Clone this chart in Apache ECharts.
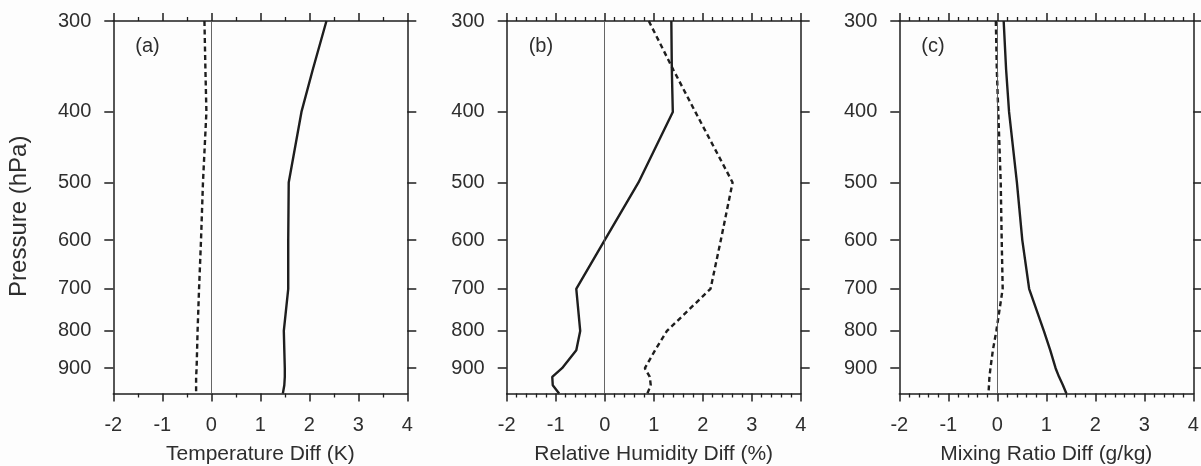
<!DOCTYPE html>
<html>
<head>
<meta charset="utf-8">
<script src="https://cdn.jsdelivr.net/npm/echarts@6/dist/echarts.min.js"></script>
<style>
  html, body { margin: 0; padding: 0; background: #fdfdfd; }
  #chart { width: 1201px; height: 466px; }
</style>
</head>
<body>
<div id="chart"></div>
<script>
// pressure levels (hPa) where the profiles are read
const levels = [300, 350, 400, 500, 600, 700, 800, 850, 900, 925, 950, 975];
const pTicks = [300, 400, 500, 600, 700, 800, 900];

// (a) temperature diff (K)
const tempSolid  = [2.35, 2.07, 1.84, 1.58, 1.57, 1.57, 1.48, 1.49, 1.50, 1.50, 1.49, 1.46];
const tempDashed = [-0.14, -0.12, -0.10, -0.17, -0.21, -0.25, -0.28, -0.29, -0.30, -0.31, -0.31, -0.31];
// (b) relative humidity diff (%)
const rhSolid  = [1.36, 1.37, 1.39, 0.69, 0.0, -0.58, -0.50, -0.58, -0.87, -1.07, -1.06, -0.93];
const rhDashed = [0.90, 1.40, 1.85, 2.61, 2.37, 2.16, 1.27, 1.03, 0.82, 0.92, 0.94, 0.87];
// (c) mixing ratio diff (g/kg)
const mrSolid  = [0.13, 0.18, 0.24, 0.40, 0.51, 0.65, 0.95, 1.08, 1.19, 1.26, 1.34, 1.41];
const mrDashed = [-0.03, -0.01, 0.02, 0.07, 0.09, 0.11, -0.02, -0.09, -0.14, -0.16, -0.17, -0.18];

const panels = [
  { tag: '(a)', xname: 'Temperature Diff (K)', minor: 2, solid: tempSolid, dashed: tempDashed, left: 113.3 },
  { tag: '(b)', xname: 'Relative Humidity Diff (%)', minor: 5, solid: rhSolid, dashed: rhDashed, left: 506.7 },
  { tag: '(c)', xname: 'Mixing Ratio Diff (g/kg)', minor: 5, solid: mrSolid, dashed: mrDashed, left: 899.3 }
];

const ink = '#1e1e1e';
const txt = '#2e2e2e';
const font = 'Liberation Sans, Arial, sans-serif';
const plotW = 294;
const logTicks = pTicks.map(p => Math.log(p));

let chart = echarts.init(document.getElementById('chart'), null, { renderer: 'canvas' });

let grid = [], xAxis = [], yAxis = [], series = [], title = [];

panels.forEach((pn, i) => {
  grid.push({ left: pn.left, width: plotW, top: 21, bottom: 466 - 393.5, containLabel: false, outerBoundsMode: 'none' });

  let xCommon = {
    gridIndex: i, type: 'value', min: -2, max: 4, interval: 1,
    axisLine: { show: true, onZero: false, lineStyle: { color: ink, width: 1.5 } },
    axisTick: { show: true, length: 8, lineStyle: { color: ink, width: 1.5 } },
    minorTick: { show: true, splitNumber: pn.minor, length: 4, lineStyle: { color: ink, width: 1.3 } },
    splitLine: { show: false },
    minorSplitLine: { show: false }
  };
  xAxis.push(Object.assign({}, xCommon, {
    position: 'bottom',
    axisLabel: { fontSize: 20, margin: 22, color: txt, fontFamily: font },
    name: pn.xname, nameLocation: 'middle', nameGap: 50,
    nameTextStyle: { fontSize: 21, color: txt, fontFamily: font }
  }));
  xAxis.push(Object.assign({}, xCommon, {
    position: 'top',
    axisLabel: { show: false }
  }));

  let yCommon = {
    gridIndex: i, type: 'value', inverse: true,
    min: Math.log(300), max: Math.log(975),
    axisLine: { show: true, onZero: false, lineStyle: { color: ink, width: 1.5 } },
    axisTick: { show: true, length: 9, customValues: logTicks, lineStyle: { color: ink, width: 1.5 } },
    splitLine: { show: false }
  };
  yAxis.push(Object.assign({}, yCommon, {
    position: 'left',
    axisLabel: {
      customValues: logTicks, fontSize: 20, margin: 22, color: txt, fontFamily: font,
      formatter: v => Math.round(Math.exp(v))
    },
    name: i === 0 ? 'Pressure (hPa)' : '', nameLocation: 'middle', nameGap: 82,
    nameTextStyle: { fontSize: 24, color: txt, fontFamily: font, padding: [0, 18, 0, 0] }
  }));
  yAxis.push(Object.assign({}, yCommon, {
    position: 'right',
    axisLabel: { show: false }
  }));

  title.push({
    text: pn.tag, left: pn.left + 17, top: 31,
    textStyle: { fontSize: 20, fontWeight: 'normal', color: txt, fontFamily: font }
  });

  series.push({
    type: 'line', xAxisIndex: 2 * i, yAxisIndex: 2 * i,
    data: levels.map((p, k) => [pn.solid[k], Math.log(p)]),
    showSymbol: false, silent: true,
    lineStyle: { color: ink, width: 2.4, type: 'solid' },
    markLine: {
      silent: true, symbol: 'none', label: { show: false },
      lineStyle: { color: '#555', width: 0.9, type: 'solid' },
      data: [{ xAxis: 0 }]
    }
  });
  series.push({
    type: 'line', xAxisIndex: 2 * i, yAxisIndex: 2 * i,
    data: levels.map((p, k) => [pn.dashed[k], Math.log(p)]),
    showSymbol: false, silent: true,
    lineStyle: { color: ink, width: 2.4, type: [5, 3.5] }
  });
});

let option = {
  backgroundColor: '#fdfdfd',
  animation: false,
  title: title,
  grid: grid,
  xAxis: xAxis,
  yAxis: yAxis,
  series: series
};
chart.setOption(option);
</script>
</body>
</html>
